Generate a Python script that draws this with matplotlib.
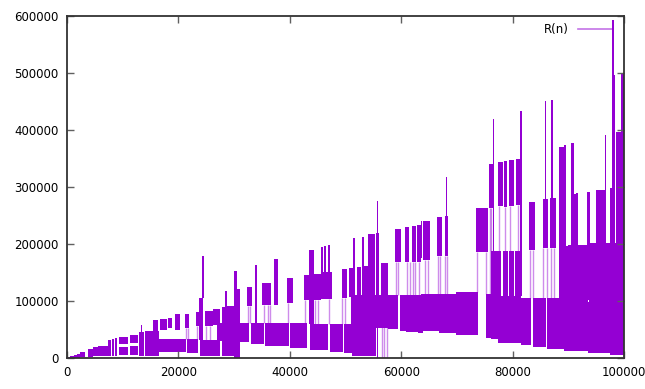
import matplotlib
matplotlib.use("Agg")
import matplotlib.pyplot as plt
from matplotlib.lines import Line2D

# solid runs of R(n): start n, end n, low R, high R
blk_n0 = [0, 600, 1200, 1800, 2400, 2900, 3800, 4700, 5600, 7400, 8000, 8600,
          9400, 9400, 11300, 11300, 13000, 13200, 14000, 15300, 16500, 15500,
          16700, 18200, 19400, 20300, 21200, 21500, 23200, 23700, 24200, 23800,
          24800, 26300, 26900, 27800, 28300, 28700, 29900, 30000, 28900, 32300,
          33100, 33700, 35000, 35600, 37200, 39500, 40100, 42600, 43500, 44300,
          45600, 45900, 46200, 46900, 43700, 47200, 49300, 49700, 50700, 51300,
          51000, 51200, 52000, 52900, 53300, 54100, 54000, 55500, 55600, 56400,
          57600, 58800, 59700, 60700, 60800, 61900, 61600, 62800, 63000, 63500,
          64000, 63500, 66500, 67800, 68100, 66800, 69800, 73400, 75200, 75700,
          76400, 76200, 76200, 77300, 78400, 77300, 78300, 79400, 80500, 77300,
          79300, 80600, 81300, 81500, 83000, 83600, 85400, 85800, 86900, 86700,
          86100, 88300, 89200, 88300, 90500, 90500, 89900, 89200, 91400, 93300,
          93800, 93500, 94900, 96500, 97400, 97900, 97800, 98600, 99500, 97400]
blk_n1 = [600, 1200, 1800, 2400, 2900, 3300, 4700, 5500, 7300, 7900, 8400, 9000,
          11000, 11000, 12800, 12800, 13800, 13500, 15300, 16500, 20300, 16400,
          18000, 18900, 20300, 21400, 21900, 23600, 24000, 24500, 24600, 27500,
          26300, 27500, 28900, 28700, 28800, 29900, 31100, 30500, 32700, 33200,
          35300, 34100, 36600, 39800, 37800, 40500, 43000, 43700, 44400, 45600,
          45900, 47500, 46500, 47300, 46800, 49500, 50200, 51200, 51600, 51700,
          59400, 54000, 52700, 53300, 54100, 55300, 55400, 56100, 55900, 57600,
          59400, 59900, 60800, 61400, 61800, 62700, 63000, 63600, 64000, 63800,
          65200, 66700, 67400, 68400, 68300, 69800, 73700, 75500, 76100, 76400,
          76700, 77300, 77300, 78200, 79000, 78000, 79200, 80300, 81500, 81500,
          80300, 81500, 81600, 83300, 84000, 86000, 86300, 86000, 87200, 87800,
          89200, 89200, 89600, 90000, 91000, 91400, 93800, 93500, 91700, 93900,
          97400, 97400, 96700, 96800, 98300, 98200, 98400, 99500, 100000, 100000]
blk_lo = [0, 0, 300, 600, 900, 1200, 2500, 3000, 3500, 3500, 3500, 4000,
          4500, 24000, 5000, 27000, 3000, 45000, 3000, 3000, 10000, 47000,
          50000, 52000, 49700, 11100, 53000, 9400, 56700, 31600, 105000, 3500,
          56700, 57800, 29800, 3000, 90000, 3000, 0, 121000, 28700, 90600,
          24500, 61900, 93600, 21000, 93600, 97300, 16900, 101000, 59700, 102000,
          104000, 104000, 104000, 104000, 14000, 10500, 106000, 8200, 107000, 107000,
          52000, 3500, 107000, 107000, 107000, 108000, 3000, 108000, 0, 110000,
          50300, 168000, 47300, 168000, 46000, 168000, 45000, 169000, 44500, 175000,
          172000, 46800, 179000, 179000, 179000, 43800, 40900, 186000, 35100, 264000,
          111000, 111000, 33000, 267000, 265000, 108000, 108000, 108000, 108000, 27000,
          266000, 269000, 108000, 22000, 190000, 20000, 193000, 279000, 193000, 193000,
          15000, 196000, 196000, 104000, 196000, 196000, 102000, 12000, 198000, 198000,
          99000, 8000, 201000, 201000, 201000, 100000, 100000, 201000, 100000, 5000]
blk_hi = [1800, 4100, 5900, 7600, 10000, 11200, 15800, 19300, 21700, 32200, 34000, 35100,
          20000, 37000, 21000, 41000, 45000, 58000, 47000, 47000, 34000, 66000,
          68000, 70600, 77700, 33300, 77000, 33300, 80700, 105000, 179000, 31600,
          82400, 85300, 60800, 90000, 118000, 91800, 121000, 152600, 61900, 125000,
          61900, 163000, 131000, 61900, 173000, 140000, 61900, 145000, 190000, 147000,
          195000, 151000, 196600, 199000, 59700, 59700, 157000, 59700, 158000, 210000,
          110000, 54600, 160000, 213000, 162000, 217000, 54600, 220000, 276000, 166000,
          111000, 227000, 110000, 230000, 110000, 232000, 110000, 234000, 110000, 240000,
          240000, 113000, 247000, 249000, 317000, 113000, 115000, 263000, 113000, 340000,
          419000, 188000, 111000, 344000, 345000, 188000, 188000, 188000, 188000, 108000,
          347000, 350000, 433000, 106000, 273000, 106000, 279000, 451000, 453000, 281000,
          106000, 371000, 374000, 196000, 378000, 287000, 198000, 104000, 289000, 292000,
          201000, 99000, 295000, 392000, 298000, 593000, 497000, 397000, 500000, 201000]

# sparse single jumps between the tiers (drawn as thin pale lines)
lnk_n = [21300, 21700, 23300, 25000, 25600, 32500, 32900, 35300, 36000, 36500,
         39700, 42800, 44600, 45000, 47000, 49400, 49900, 56500, 57000, 57400,
         59000, 59500, 61000, 61600, 62200, 62500, 63200, 64300, 64800, 66600,
         67000, 67900, 68300, 73600, 75300, 75900, 76100, 77500, 78600, 79500,
         80900, 83200, 83700, 85500, 86100, 86900, 87500]
lnk_lo = [33000, 33000, 33000, 31600, 31600, 61900, 61900, 61900, 61900, 61900,
          61900, 61900, 59700, 59700, 59700, 59700, 59700, 0, 0, 0,
          111000, 111000, 110000, 110000, 110000, 110000, 110000, 113000, 113000, 113000,
          113000, 113000, 113000, 115000, 113000, 113000, 188000, 188000, 188000, 188000,
          188000, 106000, 106000, 106000, 106000, 106000, 106000]
lnk_hi = [53000, 53000, 56700, 56700, 56700, 90600, 90600, 93600, 93600, 93600,
          97300, 101000, 102000, 102000, 104000, 106000, 106000, 110000, 110000, 110000,
          168000, 168000, 168000, 168000, 168000, 168000, 169000, 172000, 172000, 179000,
          179000, 179000, 179000, 186000, 186000, 264000, 264000, 267000, 265000, 266000,
          269000, 190000, 190000, 193000, 193000, 193000, 193000]

x_ticks = [0, 20000, 40000, 60000, 80000, 100000]
y_ticks = [0, 100000, 200000, 300000, 400000, 500000, 600000]

purple = "#9400D3"

fig = plt.figure(figsize=(6.45, 3.89), dpi=100)
ax = fig.add_axes([67 / 645, 31 / 389, 557 / 645, 342 / 389])

ax.vlines(lnk_n, lnk_lo, lnk_hi, colors=purple, alpha=0.45, linewidth=1.0)
widths = [b - a for a, b in zip(blk_n0, blk_n1)]
heights = [h - l for l, h in zip(blk_lo, blk_hi)]
ax.bar(blk_n0, heights, width=widths, bottom=blk_lo, align="edge",
       color=purple, linewidth=0)

ax.set_xlim(0, 100000)
ax.set_ylim(0, 600000)
ax.set_xticks(x_ticks)
ax.set_yticks(y_ticks)
ax.set_xticklabels([str(v) for v in x_ticks])
ax.set_yticklabels([str(v) for v in y_ticks])
ax.tick_params(direction="in", length=5, width=1, color="#606060",
               top=True, right=True, labelsize=8.5, pad=6)
for s in ax.spines.values():
    s.set_linewidth(1.3)
    s.set_color("#333333")

h = Line2D([], [], color=purple, linewidth=1.2, alpha=0.55)
ax.legend([h], ["R(n)"], loc="upper right", frameon=False, markerfirst=False,
          fontsize=8.5, handlelength=3.0, borderaxespad=0.4,
          bbox_to_anchor=(0.998, 1.008))

fig.savefig("out.png", dpi=100)
